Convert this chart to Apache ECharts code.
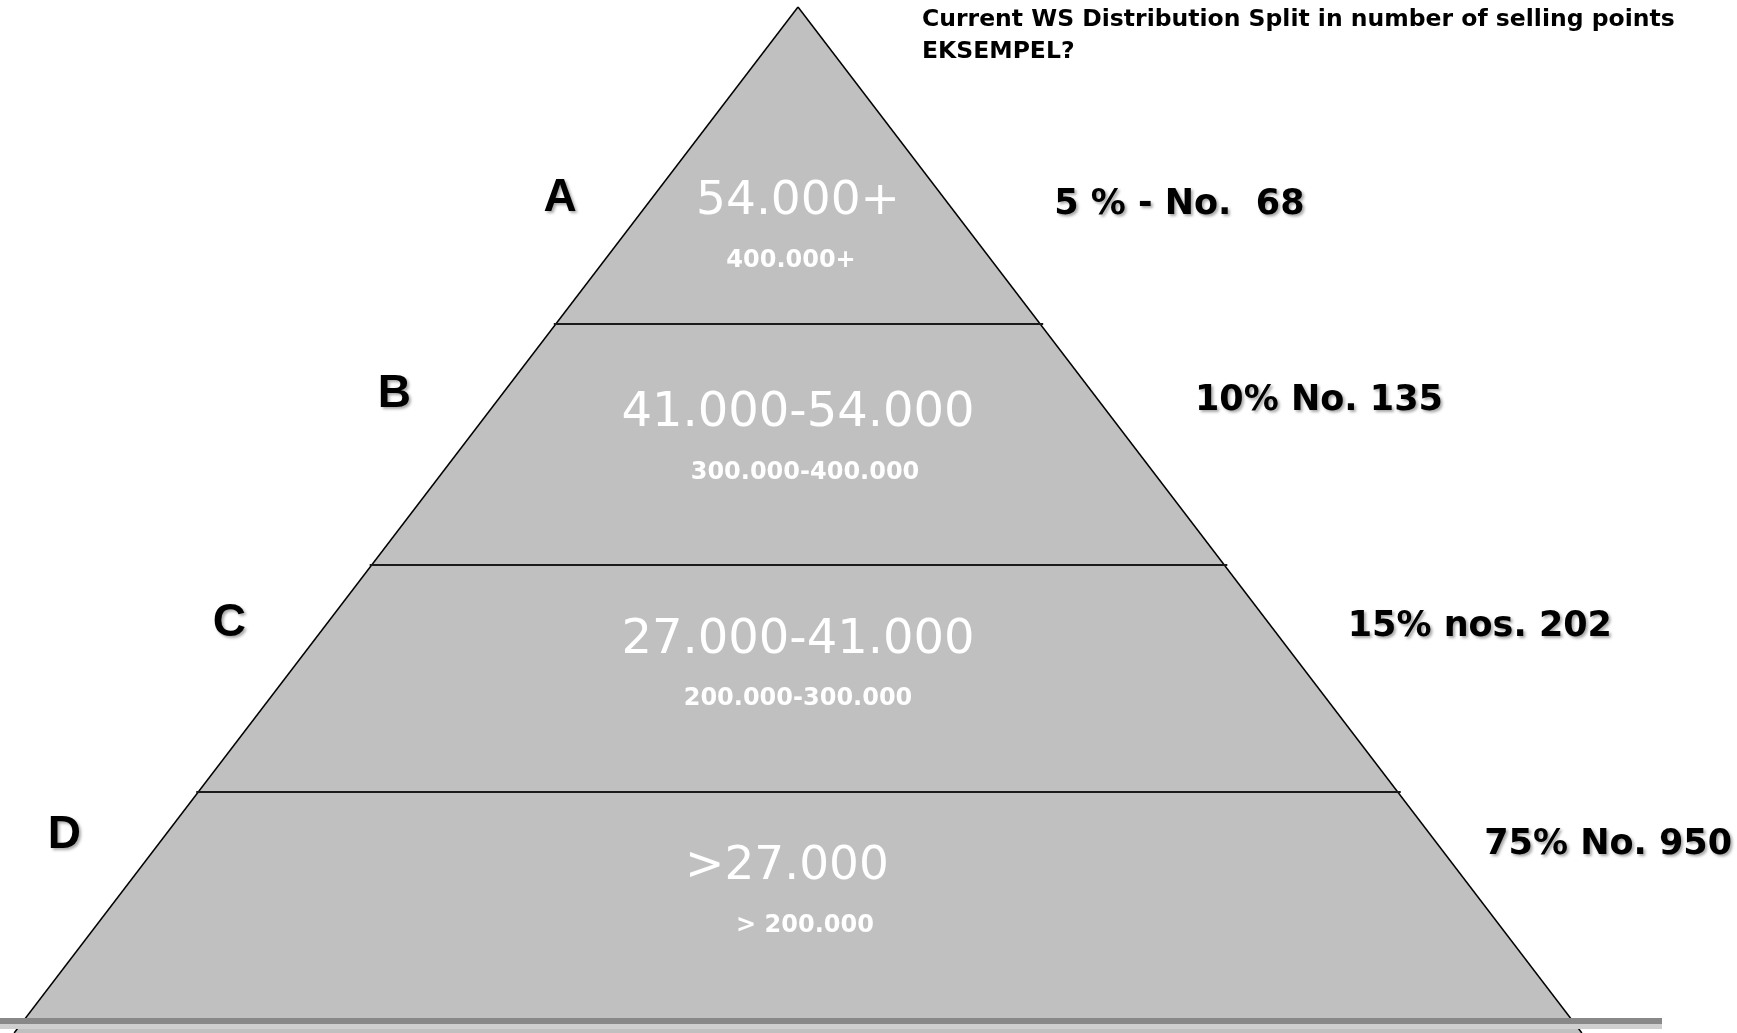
<!DOCTYPE html>
<html>
<head>
<meta charset="utf-8">
<script src="https://cdn.jsdelivr.net/npm/echarts@6/dist/echarts.min.js"></script>
<style>
  html, body { margin: 0; padding: 0; background: #fff; }
  #chart { width: 1737px; height: 1033px; }
</style>
</head>
<body>
<div id="chart"></div>
<script>
// tiers of the pyramid, top to bottom
const tiers = ['A', 'B', 'C', 'D'];
// depth of tier boundaries, measured down from the apex
const tierBounds = [0, 317, 558, 785, 1026];
const mainRanges = ['54.000+', '41.000-54.000', '27.000-41.000', '>27.000'];
const subRanges = ['400.000+', '300.000-400.000', '200.000-300.000', '> 200.000'];
const shareLabels = ['5 % - No.  68', '10% No. 135', '15% nos. 202', '75% No. 950'];
const titleLines = ['Current WS Distribution Split in number of selling points', 'EKSEMPEL?'];

// layout (not data)
const slope = 0.764;            // half width per unit of depth
const mainDepth = [195, 407, 634, 860];
const mainShift = [0, 0, 0, -11];
const mainFont = [47, 48, 48, 47];
const subDepth = [254, 466, 692, 919];
const subShift = [-7, 7, 0, 7];
const letterDepth = [191, 387, 616, 828];
const letterGap = [92, 108, 98, 101];
const shareDepth = [198, 394, 620, 838];
const shareGap = [105, 96, 76, 46];
const floorDepth = 1014;

const chart = echarts.init(document.getElementById('chart'));

const shadow = {
  textShadowColor: 'rgba(0,0,0,0.35)',
  textShadowBlur: 3,
  textShadowOffsetX: 2,
  textShadowOffsetY: 2
};

function renderTier(params, api) {
  const i = api.value(0);
  const top = tierBounds[i];
  const bot = tierBounds[i + 1];
  const p1 = api.coord([-slope * top, top]);
  const p2 = api.coord([slope * top, top]);
  const p3 = api.coord([slope * bot, bot]);
  const p4 = api.coord([-slope * bot, bot]);
  const children = [
    {
      type: 'polygon',
      shape: { points: [p1, p2, p3, p4] },
      style: { fill: '#c0c0c0', stroke: 'none' }
    },
    {
      type: 'line',
      shape: { x1: p1[0], y1: p1[1], x2: p4[0], y2: p4[1] },
      style: { stroke: '#000', lineWidth: 1.5 }
    },
    {
      type: 'line',
      shape: { x1: p2[0], y1: p2[1], x2: p3[0], y2: p3[1] },
      style: { stroke: '#000', lineWidth: 1.5 }
    }
  ];
  if (i > 0) {
    children.push({
      type: 'line',
      shape: { x1: p1[0] - 2, y1: p1[1], x2: p2[0] + 3, y2: p2[1] },
      style: { stroke: '#1a1a1a', lineWidth: 2 }
    });
  }
  const mc = api.coord([mainShift[i], mainDepth[i]]);
  children.push({
    type: 'text',
    x: mc[0], y: mc[1],
    style: {
      text: mainRanges[i], fill: '#fff', align: 'center', verticalAlign: 'middle',
      font: mainFont[i] + 'px "DejaVu Sans"'
    }
  });
  const sc = api.coord([subShift[i], subDepth[i]]);
  children.push({
    type: 'text',
    x: sc[0], y: sc[1],
    style: {
      text: subRanges[i], fill: '#fff', align: 'center', verticalAlign: 'middle',
      font: 'bold 24px "DejaVu Sans"'
    }
  });
  const lc = api.coord([-slope * letterDepth[i], letterDepth[i]]);
  children.push({
    type: 'text',
    x: lc[0] - letterGap[i], y: lc[1],
    style: Object.assign({
      text: tiers[i], fill: '#000', align: 'center', verticalAlign: 'middle',
      font: 'bold 46px "Liberation Sans"'
    }, shadow)
  });
  const rc = api.coord([slope * shareDepth[i], shareDepth[i]]);
  children.push({
    type: 'text',
    x: rc[0] + shareGap[i], y: rc[1],
    style: Object.assign({
      text: shareLabels[i], fill: '#000', align: 'left', verticalAlign: 'middle',
      font: 'bold 35px "DejaVu Sans"'
    }, shadow)
  });
  return { type: 'group', children: children };
}

chart.setOption({
  animation: false,
  backgroundColor: '#fff',
  title: {
    text: titleLines.join('\n'),
    left: 922,
    top: 4,
    padding: 0,
    textStyle: {
      fontFamily: 'DejaVu Sans',
      fontWeight: 'bold',
      fontSize: 23.5,
      lineHeight: 32,
      color: '#000'
    }
  },
  grid: { left: 0, right: 0, top: 7, bottom: 0 },
  xAxis: { type: 'value', min: -798, max: 939, show: false },
  yAxis: { type: 'value', min: 0, max: 1026, inverse: true, show: false },
  series: [
    {
      type: 'custom',
      clip: false,
      renderItem: renderTier,
      data: tiers.map((t, i) => [i]),
      z: 2
    },
    {
      type: 'line',
      data: [],
      z: 5,
      markLine: {
        silent: true,
        symbol: 'none',
        label: { show: false },
        data: [
          [{ coord: [-798, floorDepth], lineStyle: { color: '#888', width: 6, type: 'solid' } },
           { coord: [864, floorDepth] }],
          [{ coord: [-798, floorDepth + 5.5], lineStyle: { color: '#cfcfcf', width: 5, type: 'solid' } },
           { coord: [864, floorDepth + 5.5] }]
        ]
      }
    }
  ]
});
</script>
</body>
</html>
